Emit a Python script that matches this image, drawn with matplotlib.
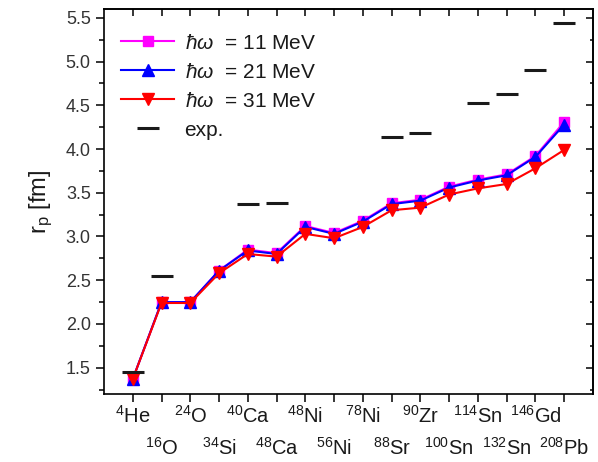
import matplotlib
matplotlib.use("Agg")
import matplotlib.pyplot as plt
import matplotlib.transforms as mtransforms
import numpy as np

plt.rcParams['font.family'] = ['Liberation Sans', 'DejaVu Sans']
plt.rcParams['mathtext.fontset'] = 'custom'
plt.rcParams['mathtext.rm'] = 'Liberation Sans'
plt.rcParams['mathtext.it'] = 'Liberation Sans:italic'
plt.rcParams['mathtext.bf'] = 'Liberation Sans:bold'

nuclei = ['4He', '16O', '24O', '34Si', '40Ca', '48Ca', '48Ni', '56Ni', '78Ni',
          '88Sr', '90Zr', '100Sn', '114Sn', '132Sn', '146Gd', '208Pb']
mass_numbers = ['4', '16', '24', '34', '40', '48', '48', '56', '78',
                '88', '90', '100', '114', '132', '146', '208']
elements = ['He', 'O', 'O', 'Si', 'Ca', 'Ca', 'Ni', 'Ni', 'Ni',
            'Sr', 'Zr', 'Sn', 'Sn', 'Sn', 'Gd', 'Pb']

rp_11 = [1.37, 2.25, 2.25, 2.61, 2.85, 2.81, 3.12, 3.04, 3.18, 3.38, 3.42, 3.57, 3.65, 3.71, 3.92, 4.31]
rp_21 = [1.37, 2.25, 2.25, 2.61, 2.84, 2.80, 3.11, 3.03, 3.17, 3.37, 3.41, 3.56, 3.64, 3.70, 3.91, 4.28]
rp_31 = [1.37, 2.24, 2.24, 2.58, 2.80, 2.77, 3.03, 2.98, 3.11, 3.30, 3.33, 3.48, 3.55, 3.60, 3.78, 3.99]
rp_exp = [1.45, 2.55, np.nan, np.nan, 3.37, 3.38, np.nan, np.nan, np.nan,
          4.14, 4.18, np.nan, 4.53, 4.63, 4.90, 5.44]

x = np.arange(1, len(nuclei) + 1)

fig = plt.figure(figsize=(5.98, 4.62), dpi=100)
ax = fig.add_axes([0.1739, 0.1472, 0.8177, 0.8333])

ax.plot(x, rp_11, color='#FF00FF', marker='s', markersize=6.5, lw=1.5,
        label=r'$\hbar\omega$  = 11 MeV', zorder=3)
ax.plot(x, rp_21, color='#0000FF', marker='^', markersize=8, lw=1.5,
        label=r'$\hbar\omega$  = 21 MeV', zorder=4)
ax.plot(x, rp_31, color='#FF0000', marker='v', markersize=8, lw=1.5,
        label=r'$\hbar\omega$  = 31 MeV', zorder=5)
ax.plot(x, rp_exp, linestyle='none', marker='_', markersize=16,
        markeredgewidth=2.2, color='#1a1a1a', label='exp.', zorder=6)

ax.set_xlim(0, 17)
ax.set_ylim(1.2, 5.6)
ax.set_yticks(np.arange(1.5, 5.51, 0.5))
ax.set_yticks(np.arange(1.25, 5.6, 0.25), minor=True)
ax.set_yticklabels([f'{v:.1f}' for v in np.arange(1.5, 5.51, 0.5)])
ax.set_xticks(x)
ax.set_xticklabels([])

for s in ax.spines.values():
    s.set_linewidth(1.2)

ax.tick_params(axis='y', which='major', direction='out', length=6, width=1.1,
               labelsize=13, labelcolor='#333333', right=False)
ax.tick_params(axis='y', which='minor', direction='out', length=3.5, width=1.1, right=False)
ax.tick_params(axis='x', which='major', direction='out', length=5.5, width=1.1, top=False)

secy = ax.secondary_yaxis('right')
secy.set_yticks(np.arange(1.5, 5.51, 0.5))
secy.set_yticks(np.arange(1.25, 5.6, 0.25), minor=True)
secy.tick_params(axis='y', which='major', direction='in', length=5, width=1.1, labelright=False)
secy.tick_params(axis='y', which='minor', direction='in', length=2.5, width=1.1)
secy.spines['right'].set_linewidth(1.2)

secx = ax.secondary_xaxis('top')
secx.set_xticks(x)
secx.tick_params(axis='x', which='major', direction='in', length=5, width=1.1, labeltop=False)
secx.spines['top'].set_linewidth(1.2)

trans = mtransforms.blended_transform_factory(ax.transData, ax.transAxes)
for i, (a, el) in enumerate(zip(mass_numbers, elements)):
    yy = -0.0753 if i % 2 == 0 else -0.158
    ax.text(x[i], yy, r'$^{' + a + r'}$' + el, transform=trans, ha='center', va='baseline',
            fontsize=14.5, color='#1a1a1a')

ax.set_ylabel(r'r$_\mathregular{p}$ [fm]', fontsize=17, color='#1a1a1a', labelpad=8)

leg = ax.legend(loc='upper left', bbox_to_anchor=(0.0178, 0.958), frameon=False,
                fontsize=15, handlelength=2.55, handletextpad=0.5, labelspacing=0.48,
                borderaxespad=0.0, borderpad=0.4)
for t in leg.get_texts():
    t.set_color('#1a1a1a')

fig.savefig('out.png', dpi=100)
